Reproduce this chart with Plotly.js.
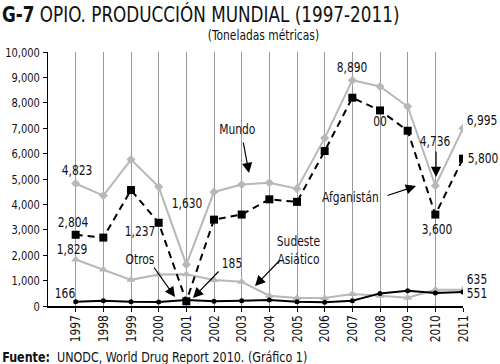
<!DOCTYPE html>
<html>
<head>
<meta charset="utf-8">
<script src="https://cdn.plot.ly/plotly-3.0.1.min.js"></script>
<style>html,body{margin:0;padding:0;background:#fff;}#chart{width:500px;height:364px;}</style>
</head>
<body>
<div id="chart"></div>
<script>
const years = [1997,1998,1999,2000,2001,2002,2003,2004,2005,2006,2007,2008,2009,2010,2011];
const mundo = [4823,4346,5764,4691,1630,4491,4783,4850,4620,6610,8890,8641,7853,4736,6995];
const afganistan = [2804,2693,4565,3276,185,3400,3600,4200,4100,6100,8200,7700,6900,3600,5800];
const sudeste = [1829,1437,1030,1243,1250,1020,953,405,314,314,470,405,325,640,635];
const otros = [166,209,170,157,235,183,209,235,170,144,209,497,601,510,551];
const yTicks = [0,1000,2000,3000,4000,5000,6000,7000,8000,9000,10000];

const FONT = '"DejaVu Sans Condensed", "Liberation Sans Narrow", sans-serif';
const W = 500, H = 364, L = 48, R = 463, T = 52, B = 306;
const px = x => (x - L) / (R - L);
const py = y => (B - y) / (B - T);

const traces = [
  {x: years, y: mundo, name: 'Mundo', mode: 'lines+markers',
   line: {color: '#b8b8b8', width: 2}, marker: {symbol: 'diamond', size: 7, color: '#b8b8b8'}},
  {x: years, y: sudeste, name: 'Sudeste Asiático', mode: 'lines+markers',
   line: {color: '#b8b8b8', width: 2}, marker: {symbol: 'triangle-up', size: 8, color: '#b8b8b8'}},
  {x: years, y: otros, name: 'Otros', mode: 'lines+markers',
   line: {color: '#000', width: 2}, marker: {symbol: 'circle', size: 5, color: '#000'}},
  {x: years, y: afganistan, name: 'Afganistán', mode: 'lines+markers',
   line: {color: '#000', width: 2, dash: '7px,5px'}, marker: {symbol: 'square', size: 8, color: '#000'}}
];

const labels = [
  ['4,823', 77, 170], ['2,804', 73, 222], ['1,829', 72, 249], ['166', 65, 293],
  ['1,237', 140, 231], ['1,630', 187, 203], ['Otros', 140, 259], ['185', 232, 263],
  ['Mundo', 237, 129], ['8,890', 352, 67], ['00', 380, 121], ['4,736', 435, 141],
  ['6,995', 482, 120], ['5,800', 483, 158], ['Afganistán', 350, 197], ['3,600', 437, 229],
  ['Sudeste<br>Asiático', 298, 250], ['635', 477, 279], ['551', 477, 293]
];
const arrows = [
  [175, 297, 153, 266], [193, 298, 220, 270], [249, 173, 243, 141],
  [416, 186, 386, 196], [436, 177, 436, 150], [255, 286, 281, 259]
];

const annotations = [];
labels.forEach(([t, x, y]) => annotations.push({
  text: t, xref: 'paper', yref: 'paper', x: px(x), y: py(y), xanchor: 'center', yanchor: 'middle',
  showarrow: false, font: {family: FONT, size: 14, color: '#111'}
}));
arrows.forEach(([hx, hy, tx, ty]) => annotations.push({
  text: '', xref: 'paper', yref: 'paper', x: px(hx), y: py(hy), ax: tx - hx, ay: ty - hy,
  showarrow: true, arrowhead: 2, arrowsize: 1.7, arrowwidth: 1.2, arrowcolor: '#000', standoff: 0, startstandoff: 0
}));
annotations.push({
  text: '(Toneladas métricas)', xref: 'paper', yref: 'paper', x: px(263), y: py(35),
  xanchor: 'center', yanchor: 'middle', showarrow: false, font: {family: FONT, size: 14, color: '#111'}
});
annotations.push({
  text: '<b>Fuente:</b>  UNODC, World Drug Report 2010. (Gráfico 1)', xref: 'paper', yref: 'paper',
  x: px(0), y: py(356), xanchor: 'left', yanchor: 'middle', showarrow: false,
  font: {family: FONT, size: 14.6, color: '#111'}
});

const layout = {
  width: W, height: H,
  margin: {l: L, r: W - R, t: T, b: H - B, pad: 0},
  paper_bgcolor: '#fff', plot_bgcolor: '#fff',
  showlegend: false,
  title: {text: '<b>G-7</b> OPIO. PRODUCCIÓN MUNDIAL (1997-2011)', x: 0.004, xanchor: 'left',
          xref: 'container', yref: 'container', y: 1 - 14 / H, yanchor: 'middle',
          font: {family: FONT, size: 22, color: '#111'}},
  xaxis: {range: [1996, 2011], tickmode: 'array', tickvals: years, ticktext: years.map(String),
          tickangle: -90, showgrid: true, gridcolor: '#9a9a9a', gridwidth: 1, zeroline: false,
          showline: true, linecolor: '#000', linewidth: 1.5, ticks: 'outside', ticklen: 4,
          ticklabelstandoff: -2,
          tickcolor: '#000', tickfont: {family: FONT, size: 14, color: '#111'}},
  yaxis: {range: [0, 10000], tickmode: 'array', tickvals: yTicks,
          ticktext: yTicks.map(v => v.toLocaleString('en-US')), showgrid: false, zeroline: false,
          showline: true, linecolor: '#000', linewidth: 1.5, ticks: 'outside', ticklen: 4,
          tickcolor: '#000', tickfont: {family: FONT, size: 13, color: '#111'}},
  annotations: annotations
};

// narrow the glyphs about each text's anchor to imitate the condensed face of the reference
function condense(gd, f) {
  gd.querySelectorAll('svg text').forEach(t => {
    let x = parseFloat(t.getAttribute('x')) || 0;
    if (t.textContent.indexOf('Fuente') === 0) x = t.getBBox().x;
    const tr = t.getAttribute('transform') || '';
    t.setAttribute('transform', tr + ' translate(' + x + ',0) scale(' + f + ',1) translate(' + (-x) + ',0)');
  });
}

Plotly.newPlot('chart', traces, layout, {displayModeBar: false, staticPlot: true})
  .then(gd => condense(gd, 0.85));
</script>
</body>
</html>
